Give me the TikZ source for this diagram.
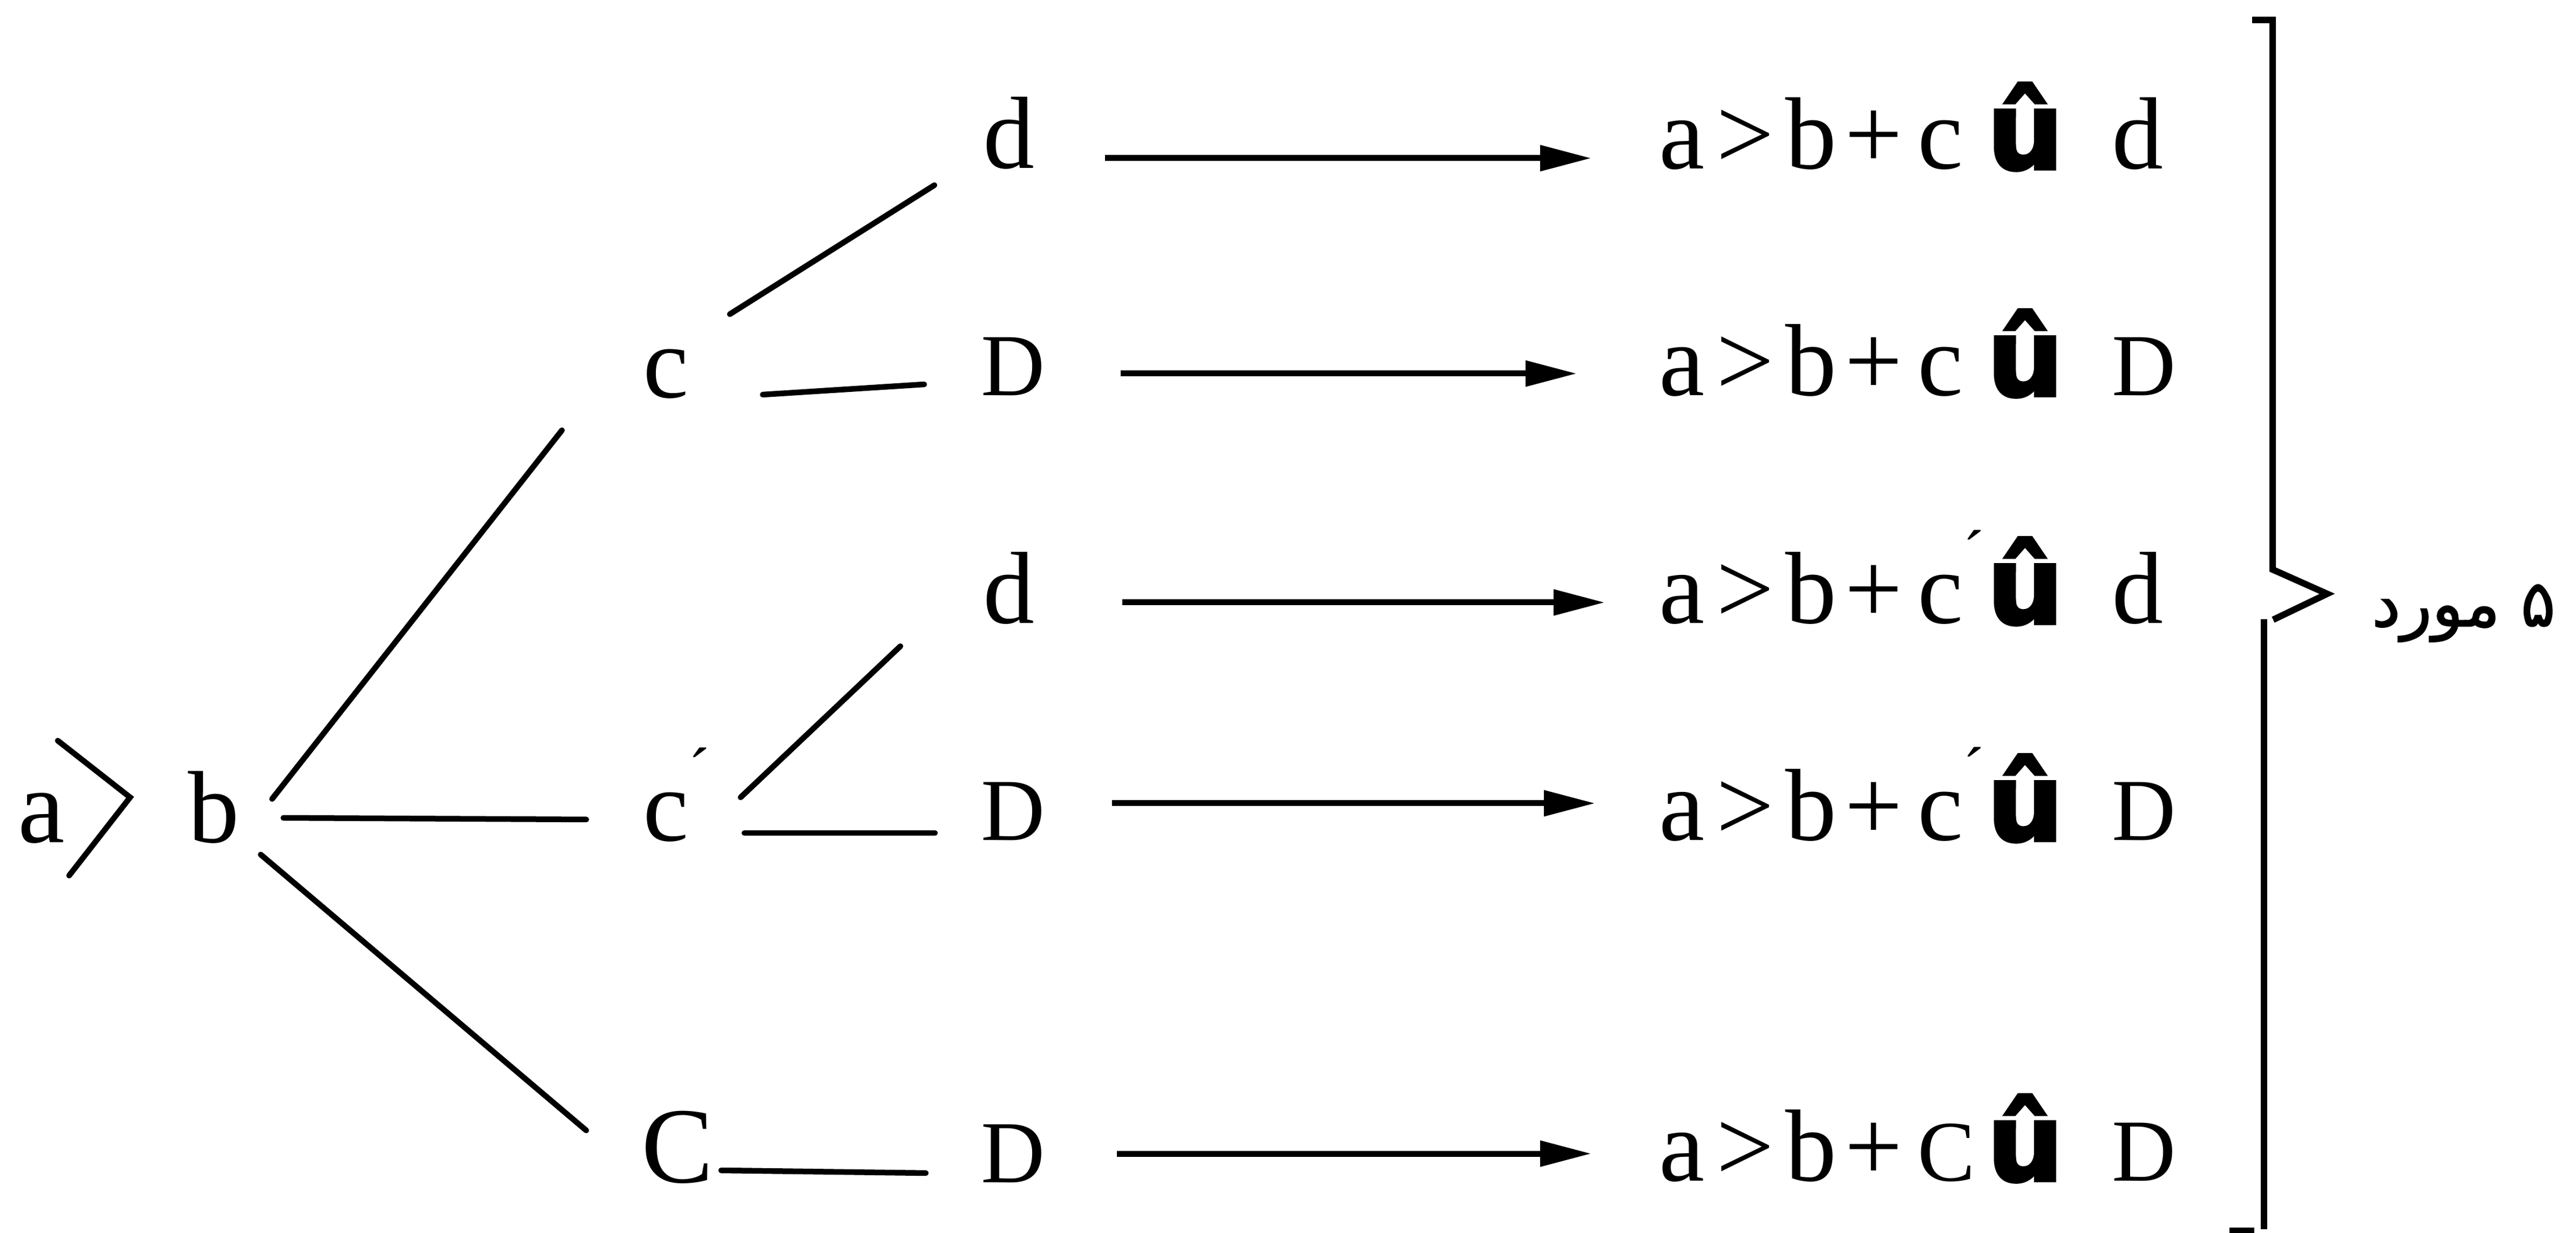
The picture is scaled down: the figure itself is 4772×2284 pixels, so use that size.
\documentclass[tikz,border=0pt]{standalone}
\usepackage{fontspec}
\setmainfont{Liberation Serif}
\newfontfamily\ufont{DejaVu Sans Bold}[FakeBold=3]
\newfontfamily\arabicfont{DejaVu Sans}[Script=Arabic,FakeBold=1.5]
\TeXXeTstate=1
\usetikzlibrary{arrows.meta}
\newcommand\ucirc{{\ufont\fontsize{19.9}{20}\selectfont û}}
\newcommand\myprime{\rlap{\raisebox{9pt}{\fontsize{12}{12}\selectfont ´}}}
\newcommand\Dsm{{\fontsize{16.4}{16}\selectfont D}}
\newcommand\resrow[2]{\makebox[60.8pt][l]{a\kern2.2pt>\kern2.1pt b\kern1.5pt+\kern2.8pt #1}\makebox[23.2pt][l]{\ucirc}#2}
\tikzset{
  lbl/.style={inner sep=0pt, anchor=base west, font=\fontsize{19}{19}\selectfont},
  caplbl/.style={inner sep=0pt, anchor=base west, font=\fontsize{16.4}{16}\selectfont},
  ln/.style={line width=1.05pt, line cap=round},
  arr/.style={line width=1.1pt, -{Triangle[length=9.5pt,width=4.6pt]}},
  brk/.style={line width=1.2pt, line join=miter},
}
\begin{document}
\begin{tikzpicture}[x=0.1pt,y=-0.1pt]
\useasboundingbox (0,0) rectangle (4772,2284);
% column 0
\node[lbl, font=\fontsize{19.5}{20}\selectfont] (a) at (31,1560) {a};
\node[lbl] (b) at (346,1560) {b};
\coordinate (g1) at (107,1372);
\coordinate (g2) at (241,1477);
\coordinate (g3) at (128,1622);
\draw[ln, line join=miter] (g1) -- (g2) -- (g3);
% column 1
\node[lbl] (c1) at (1189,737) {c};
\node[lbl] (c2) at (1189,1558) {c\myprime};
\node[lbl, font=\fontsize{20}{20}\selectfont] (c3) at (1186,2190) {C};
% column 2
\node[lbl] (d1) at (1819,312) {d};
\node[caplbl] (D2) at (1815,733) {D};
\node[lbl] (d3) at (1819,1155) {d};
\node[caplbl] (D4) at (1815,1557) {D};
\node[caplbl] (D5) at (1815,2190) {D};
% results
\node[lbl] (r1) at (3071,313) {\resrow{c}{d}};
\node[lbl] (r2) at (3071,733) {\resrow{c}{\Dsm}};
\node[lbl] (r3) at (3071,1155) {\resrow{c\myprime}{d}};
\node[lbl] (r4) at (3071,1557) {\resrow{c\myprime}{\Dsm}};
\node[lbl] (r5) at (3071,2187) {\resrow{{\fontsize{16}{16}\selectfont C}}{\Dsm}};
% tree lines
\coordinate (bc1s) at (504,1480);  \coordinate (bc1e) at (1041,797);
\coordinate (bc2s) at (525,1515);  \coordinate (bc2e) at (1086,1518);
\coordinate (bc3s) at (483,1583);  \coordinate (bc3e) at (1086,2094);
\coordinate (c1ds) at (1352,582);  \coordinate (c1de) at (1731,343);
\coordinate (c1Ds) at (1413,731);  \coordinate (c1De) at (1712,712);
\coordinate (c2ds) at (1372,1477); \coordinate (c2de) at (1668,1197);
\coordinate (c2Ds) at (1379,1543); \coordinate (c2De) at (1732,1543);
\coordinate (c3Ds) at (1336,2168); \coordinate (c3De) at (1715,2173);
\draw[ln] (bc1s) -- (bc1e);
\draw[ln] (bc2s) -- (bc2e);
\draw[ln] (bc3s) -- (bc3e);
\draw[ln] (c1ds) -- (c1de);
\draw[ln] (c1Ds) -- (c1De);
\draw[ln] (c2ds) -- (c2de);
\draw[ln] (c2Ds) -- (c2De);
\draw[ln] (c3Ds) -- (c3De);
% arrows
\coordinate (a1s) at (2047,293);  \coordinate (a1e) at (2948,293);
\coordinate (a2s) at (2076,692);  \coordinate (a2e) at (2921,692);
\coordinate (a3s) at (2079,1116); \coordinate (a3e) at (2973,1116);
\coordinate (a4s) at (2060,1488); \coordinate (a4e) at (2955,1488);
\coordinate (a5s) at (2069,2137); \coordinate (a5e) at (2948,2137);
\draw[arr] (a1s) -- (a1e);
\draw[arr] (a2s) -- (a2e);
\draw[arr] (a3s) -- (a3e);
\draw[arr] (a4s) -- (a4e);
\draw[arr] (a5s) -- (a5e);
% bracket
\draw[brk] (4172,37) -- (4210,37) -- (4210,1055) -- (4311,1100) -- (4211,1148);
\draw[brk] (4194,1147) -- (4194,2277);
\draw[brk] (4130,2280) -- (4176,2280);
\node[inner sep=0pt, anchor=base east, font=\arabicfont\fontsize{12}{13}\selectfont] (n5) at (4736,1160) {\beginR ۵ مورد\endR};
\end{tikzpicture}
\end{document}
